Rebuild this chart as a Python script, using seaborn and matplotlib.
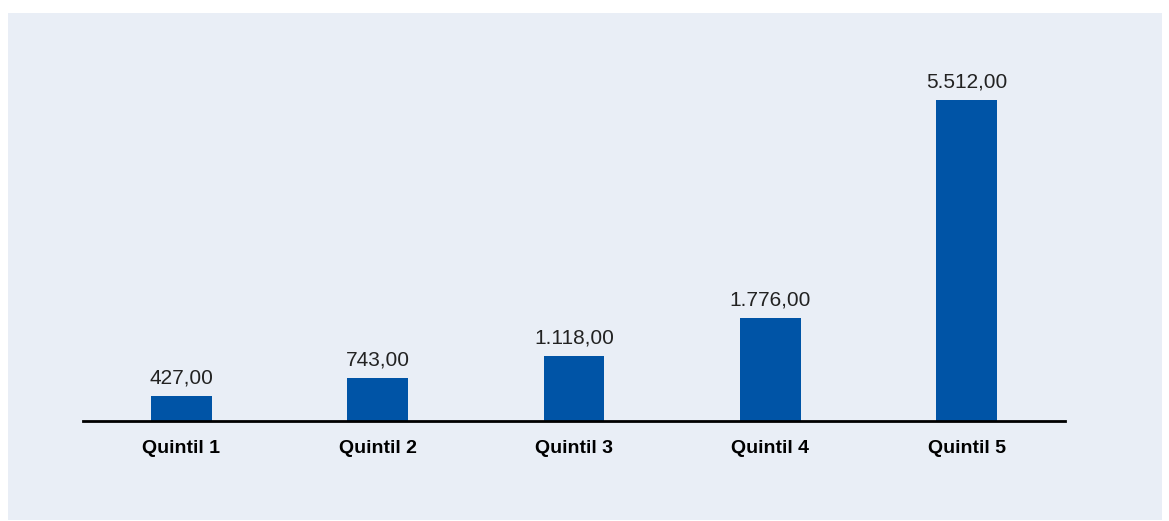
import matplotlib

matplotlib.use("Agg")

import matplotlib.pyplot as plt
import pandas as pd
import seaborn as sns
from matplotlib.patches import Rectangle
from matplotlib import font_manager

quintiles = ["Quintil 1", "Quintil 2", "Quintil 3", "Quintil 4", "Quintil 5"]
values = [427.0, 743.0, 1118.0, 1776.0, 5512.0]

BAR_COLOR = "#0054a6"
PANEL_COLOR = "#e9eef6"


def euro_format(v: float) -> str:
    s = f"{v:,.2f}"
    return s.replace(",", "X").replace(".", ",").replace("X", ".")


installed = {f.name for f in font_manager.fontManager.ttflist}
narrow = "Liberation Sans Narrow" if "Liberation Sans Narrow" in installed else "Liberation Sans"

sns.set_theme(style="white")
plt.rcParams["font.family"] = ["Liberation Sans", "DejaVu Sans"]

df = pd.DataFrame({"quintil": quintiles, "valor": values})

W, H = 1169, 521
fig = plt.figure(figsize=(W / 100, H / 100), dpi=100)
fig.patches.append(
    Rectangle((8 / W, 1 - 520 / H), 1154 / W, 507 / H, transform=fig.transFigure,
              facecolor=PANEL_COLOR, edgecolor="none", zorder=-10)
)

ax = fig.add_axes([83 / W, 1 - 421 / H, 982 / W, 407 / H])
ax.set_facecolor("none")
sns.barplot(data=df, x="quintil", y="valor", color=BAR_COLOR, width=0.31,
            saturation=1, linewidth=0, ax=ax)
ax.set_ylim(0, 6989)
ax.set_xlim(-0.5, 4.5)
ax.bar_label(ax.containers[0], labels=[euro_format(v) for v in values],
             padding=6, fontsize=15, color="#222222")

for side in ["top", "right", "left"]:
    ax.spines[side].set_visible(False)
ax.spines["bottom"].set_color("black")
ax.spines["bottom"].set_linewidth(2)
ax.set_yticks([])
ax.set_xlabel("")
ax.set_ylabel("")
ax.tick_params(axis="x", length=0, pad=14)
for lbl in ax.get_xticklabels():
    lbl.set_fontfamily([narrow, "DejaVu Sans"])
    lbl.set_fontweight("bold")
    lbl.set_fontsize(14)
    lbl.set_color("black")

fig.savefig("out.png", dpi=100, facecolor="white")
plt.close(fig)
